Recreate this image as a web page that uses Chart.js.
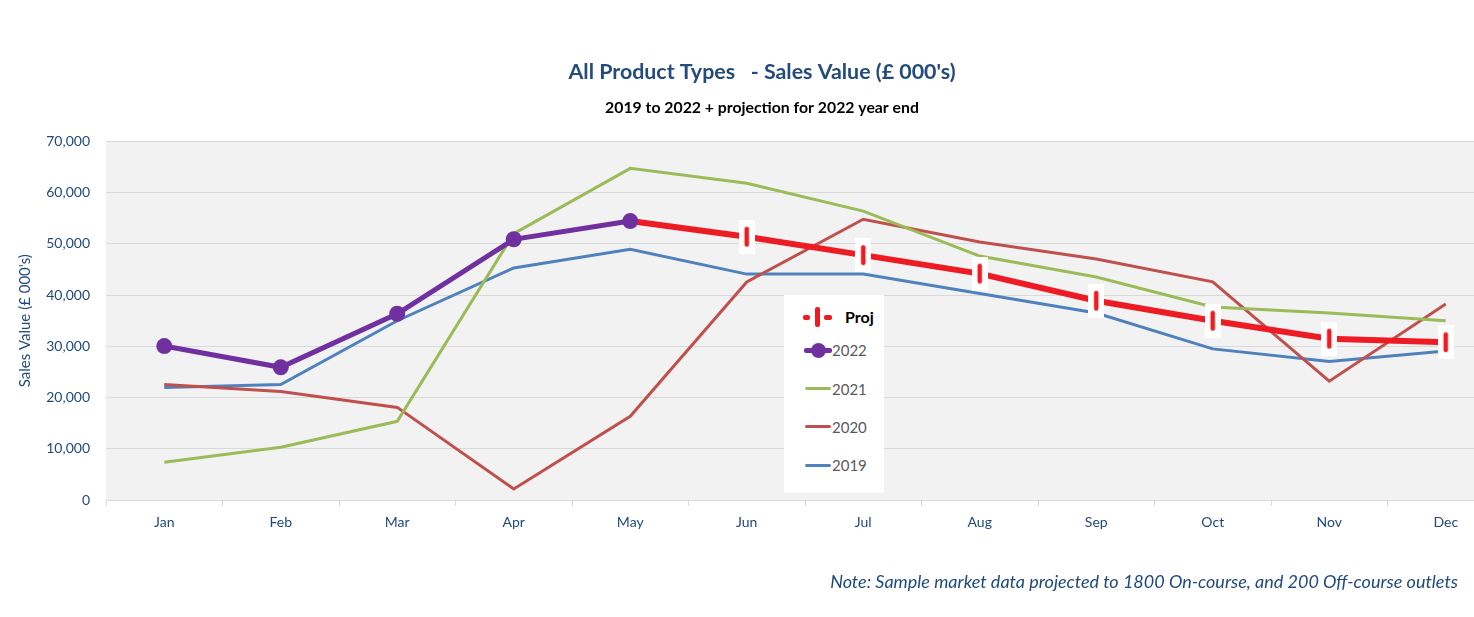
<!DOCTYPE html>
<html><head><meta charset="utf-8">
<script src="https://cdn.jsdelivr.net/npm/chart.js@4"></script>
<style>
html,body{margin:0;padding:0;background:#fff;overflow:hidden;width:1474px;height:617px;position:relative}
#wrap{position:absolute;left:0;top:0;width:1530px;height:617px}
#legend{position:absolute;left:784px;top:295px;width:100px;height:198px;background:#fff;font-family:Lato,"Open Sans",sans-serif}
#legend .ln{position:absolute;border-radius:2px}
#legend .tx{position:absolute;height:20px;line-height:20px;font-size:15px;color:#595959}
#note{position:absolute;left:0;top:569px;width:1458px;text-align:right;font-family:Lato,"Open Sans",sans-serif;font-style:italic;font-size:18px;color:#1F497D;line-height:24px}
</style></head>
<body>
<div id="wrap"><canvas id="c"></canvas></div>
<div id="legend">
  <div class="ln" style="left:19px;top:19.5px;width:7px;height:5px;background:#ED1C24"></div>
  <div class="ln" style="left:31px;top:12px;width:4.5px;height:20px;background:#ED1C24"></div>
  <div class="ln" style="left:40px;top:19.5px;width:8px;height:5px;background:#ED1C24"></div>
  <div class="tx" style="left:61px;top:12px;font-weight:bold;color:#000;font-size:16px">Proj</div>
  <div class="ln" style="left:20px;top:52.5px;width:28px;height:5px;background:#7030A0"></div>
  <div class="ln" style="left:26.5px;top:47.5px;width:15px;height:15px;border-radius:50%;background:#7030A0"></div>
  <div class="tx" style="left:48px;top:45px">2022</div>
  <div class="ln" style="left:21px;top:92.2px;width:26px;height:3px;background:#9BBB59"></div>
  <div class="tx" style="left:48px;top:84px">2021</div>
  <div class="ln" style="left:21px;top:130.2px;width:26px;height:3px;background:#C0504D"></div>
  <div class="tx" style="left:48px;top:122px">2020</div>
  <div class="ln" style="left:21px;top:168.5px;width:26px;height:3px;background:#4F81BD"></div>
  <div class="tx" style="left:48px;top:160px">2019</div>
</div>
<div id="note">Note: Sample market data projected to 1800 On-course, and 200 Off-course outlets</div>
<script>
const months = ['Jan','Feb','Mar','Apr','May','Jun','Jul','Aug','Sep','Oct','Nov','Dec'];
const yTicks = [0,10000,20000,30000,40000,50000,60000,70000];
const sales2019 = [21970,22550,35000,45300,48950,44100,44100,40300,36500,29500,27030,29100];
const sales2020 = [22550,21200,18080,2140,16330,42580,54800,50360,47050,42580,23200,38250];
const sales2021 = [7390,10300,15360,52000,64750,61830,56400,47620,43550,37700,36500,35000];
const sales2022 = [30050,25900,36360,50900,54450,null,null,null,null,null,null,null];
const proj2022  = [null,null,null,null,54450,51400,47800,44200,38900,35000,31500,30800];

const FONT = 'Lato, "Open Sans", sans-serif';
const BLUE_TXT = '#1F497D';

// projection marker: white box with red vertical bar
const mk = document.createElement('canvas');
mk.width = 16; mk.height = 34;
(function(){
  const g = mk.getContext('2d');
  g.fillStyle = '#fff'; g.fillRect(0,0,16,34);
  g.fillStyle = '#ED1C24';
  g.beginPath(); g.roundRect(5.75,7,4.5,20,2.2); g.fill();
})();

const plotBg = {
  id:'plotBg',
  beforeDraw(chart){
    const {ctx, chartArea:a} = chart;
    ctx.save(); ctx.fillStyle = '#F2F2F2';
    ctx.fillRect(a.left, a.top, a.right - a.left, a.bottom - a.top);
    ctx.restore();
  }
};

new Chart(document.getElementById('c'), {
  type:'line',
  data:{
    labels: months,
    datasets:[
      {label:'2022', data:sales2022, borderColor:'#7030A0', backgroundColor:'#7030A0', borderWidth:5,
       pointRadius:8, pointHoverRadius:8, pointBorderWidth:0, order:0},
      {label:'Proj', data:proj2022, borderColor:'#ED1C24', backgroundColor:'#ED1C24', borderWidth:6,
       pointStyle:(c)=> c.dataIndex <= 4 ? false : mk, pointRadius:8, order:1},
      {label:'2021', data:sales2021, borderColor:'#9BBB59', borderWidth:3, pointRadius:0, order:2},
      {label:'2020', data:sales2020, borderColor:'#C0504D', borderWidth:3, pointRadius:0, order:3},
      {label:'2019', data:sales2019, borderColor:'#4F81BD', borderWidth:3, pointRadius:0, order:4}
    ]
  },
  options:{
    responsive:true, maintainAspectRatio:false, animation:false,
    spanGaps:false,
    layout:{padding:{left:20,right:26,top:0,bottom:77}},
    plugins:{
      legend:{display:false},
      tooltip:{enabled:false},
      title:{display:true, text:"All Product Types   - Sales Value (£ 000's)", color:'#244B7C',
        font:{family:FONT, size:21.4, weight:'bold'}, padding:{top:59,bottom:14.2}},
      subtitle:{display:true, text:'2019 to 2022 + projection for 2022 year end', color:'#000',
        font:{family:FONT, size:15.8, weight:'bold'}, padding:{top:0,bottom:23.6}}
    },
    scales:{
      x:{
        offset:true,
        grid:{drawOnChartArea:false, drawTicks:true, tickLength:6, color:'#D9D9D9', offset:true},
        border:{color:'#D9D9D9'},
        ticks:{color:BLUE_TXT, font:{family:FONT, size:14}, padding:8, maxRotation:0},
        afterFit(s){ s.height = 40; }
      },
      y:{
        min:0, max:70000,
        afterBuildTicks(s){ s.ticks = yTicks.map(v=>({value:v})); },
        grid:{color:'#D9D9D9', drawTicks:false},
        border:{display:false},
        ticks:{color:BLUE_TXT, font:{family:FONT, size:14}, padding:16,
          callback:(v)=> Number(v).toLocaleString('en-GB')},
        title:{display:true, text:"Sales Value (£ 000's)", color:BLUE_TXT,
          font:{family:FONT, size:15}, padding:{top:-4,bottom:0}},
        afterFit(s){ s.width = 86; }
      }
    }
  },
  plugins:[plotBg]
});
</script>
</body></html>
